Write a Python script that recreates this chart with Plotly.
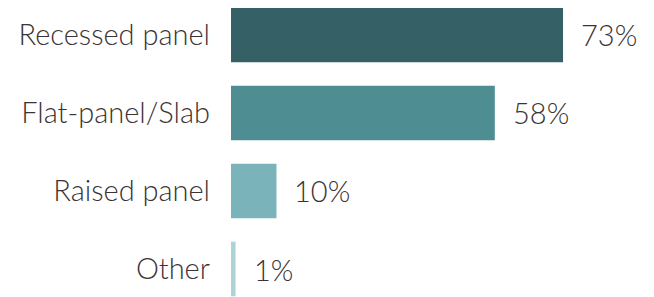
import plotly.graph_objects as go

categories = ["Recessed panel", "Flat-panel/Slab", "Raised panel", "Other"]
values = [73, 58, 10, 1]
labels = ["73%", "58%", "10%", "1%"]
colors = ["#356166", "#4e8e93", "#7ab3b9", "#aed3d6"]

font_color = "#3b3335"
font_family = "Lato, 'Noto Sans', sans-serif"

fig = go.Figure(go.Bar(
    y=categories, x=values, orientation="h",
    marker=dict(color=colors, line=dict(width=0)),
    hoverinfo="skip",
))

for c, v, t in zip(categories, values, labels):
    fig.add_annotation(x=v, y=c, text=t, xanchor="left", yanchor="middle",
                       showarrow=False, xshift=16,
                       font=dict(size=29, color=font_color, family=font_family, weight=300))

fig.update_layout(
    width=646, height=289,
    margin=dict(l=223, r=0, t=0, b=0, autoexpand=False),
    paper_bgcolor="white", plot_bgcolor="white",
    bargap=0.3,
    showlegend=False,
    font=dict(family=font_family, color=font_color, size=29, weight=300),
)
fig.update_xaxes(range=[0, 93.0], visible=False, showgrid=False, zeroline=False,
                 automargin=False)
fig.update_yaxes(categoryorder="array", categoryarray=categories,
                 range=[3.359, -0.346], showgrid=False, zeroline=False,
                 showline=False, ticks="", ticklabelstandoff=20, automargin=False,
                 tickfont=dict(size=29, color=font_color, family=font_family, weight=300))

fig.write_html("out.html")
